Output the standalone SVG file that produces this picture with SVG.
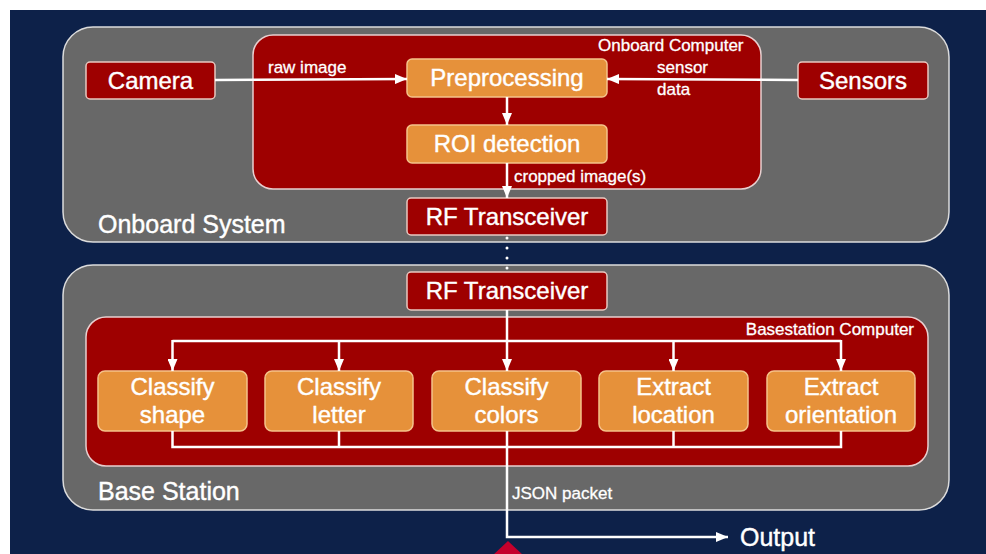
<svg xmlns="http://www.w3.org/2000/svg" width="986" height="554" viewBox="0 0 986 554">
<style>
text{font-family:"Liberation Sans",Arial,sans-serif;fill:#ffffff;stroke:#ffffff;stroke-width:0.4}
.big{font-size:25px}
.lbl{font-size:24px}
.sm{font-size:17px;stroke-width:0.3}
.cont{fill:#686868;stroke:#dcdcdc;stroke-width:1.5}
.comp{fill:#9e0000;stroke:#e8d0d0;stroke-width:1.5}
.red{fill:#9e0000;stroke:#e8c8c0;stroke-width:1.5}
.or{fill:#e6913a;stroke:#f5c28a;stroke-width:1.5}
.ln{fill:none;stroke:#ffffff;stroke-width:2.5}
</style>
<defs>
<marker id="ah" viewBox="0 0 12 10" refX="12" refY="5" markerWidth="12" markerHeight="10" markerUnits="userSpaceOnUse" orient="auto">
<path d="M0,0 L12,5 L0,10 Z" fill="#ffffff"/>
</marker>
</defs>
<rect x="0" y="0" width="986" height="554" fill="#ffffff"/>
<rect x="10" y="10" width="976" height="544" fill="#0d2149"/>
<polygon points="508,541 492,556 524,556" fill="#c4002c"/>

<g id="onboard-system">
<rect class="cont" x="63" y="27" width="886" height="215" rx="30"/>
<text class="big" x="98" y="233">Onboard System</text>
</g>
<g id="onboard-computer">
<rect class="comp" x="253" y="35" width="508" height="154" rx="20"/>
<text class="sm" x="598" y="51">Onboard Computer</text>
</g>
<g id="camera">
<rect class="red" x="86" y="62" width="129" height="37" rx="4"/>
<text class="lbl" x="150.5" y="89" text-anchor="middle">Camera</text>
</g>
<g id="sensors">
<rect class="red" x="798" y="62" width="130" height="37" rx="4"/>
<text class="lbl" x="863" y="89" text-anchor="middle">Sensors</text>
</g>
<g id="preprocessing">
<rect class="or" x="407" y="59" width="200" height="38" rx="5"/>
<text class="lbl" x="507" y="86" text-anchor="middle">Preprocessing</text>
</g>
<g id="roi">
<rect class="or" x="407" y="125" width="200" height="38" rx="5"/>
<text class="lbl" x="507" y="152" text-anchor="middle">ROI detection</text>
</g>
<g id="rf-top">
<rect class="red" x="407" y="198" width="200" height="37" rx="4"/>
<text class="lbl" x="507" y="225" text-anchor="middle">RF Transceiver</text>
</g>

<g id="base-station">
<rect class="cont" x="63" y="265" width="886" height="245" rx="30"/>
<text class="big" x="98" y="500">Base Station</text>
</g>
<g id="basestation-computer">
<rect class="comp" x="86" y="317" width="842" height="149" rx="20"/>
<text class="sm" x="914" y="335" text-anchor="end">Basestation Computer</text>
</g>
<g id="rf-bottom">
<rect class="red" x="407" y="272" width="200" height="38" rx="4"/>
<text class="lbl" x="507" y="299" text-anchor="middle">RF Transceiver</text>
</g>
<g id="classify-shape">
<rect class="or" x="98" y="371" width="149" height="60" rx="7"/>
<text class="lbl" x="172.5" y="395" text-anchor="middle">Classify</text>
<text class="lbl" x="172.5" y="423" text-anchor="middle">shape</text>
</g>
<g id="classify-letter">
<rect class="or" x="265" y="371" width="148" height="60" rx="7"/>
<text class="lbl" x="339" y="395" text-anchor="middle">Classify</text>
<text class="lbl" x="339" y="423" text-anchor="middle">letter</text>
</g>
<g id="classify-colors">
<rect class="or" x="432" y="371" width="149" height="60" rx="7"/>
<text class="lbl" x="506.5" y="395" text-anchor="middle">Classify</text>
<text class="lbl" x="506.5" y="423" text-anchor="middle">colors</text>
</g>
<g id="extract-location">
<rect class="or" x="599" y="371" width="149" height="60" rx="7"/>
<text class="lbl" x="673.5" y="395" text-anchor="middle">Extract</text>
<text class="lbl" x="673.5" y="423" text-anchor="middle">location</text>
</g>
<g id="extract-orientation">
<rect class="or" x="767" y="371" width="148" height="60" rx="7"/>
<text class="lbl" x="841" y="395" text-anchor="middle">Extract</text>
<text class="lbl" x="841" y="423" text-anchor="middle">orientation</text>
</g>
<g id="output">
<text class="big" x="740" y="546">Output</text>
</g>

<g id="connectors">
<line class="ln" x1="215" y1="80" x2="407" y2="79" marker-end="url(#ah)"/>
<text class="sm" x="268" y="73">raw image</text>
<line class="ln" x1="798" y1="80" x2="607" y2="79" marker-end="url(#ah)"/>
<text class="sm" x="657" y="73">sensor</text>
<text class="sm" x="657" y="95">data</text>
<line class="ln" x1="507" y1="97" x2="507" y2="125" marker-end="url(#ah)"/>
<line class="ln" x1="507" y1="163" x2="507" y2="198" marker-end="url(#ah)"/>
<text class="sm" x="514" y="182">cropped image(s)</text>
<line x1="507" y1="238" x2="507" y2="270" stroke="#ffffff" stroke-width="3" stroke-linecap="round" stroke-dasharray="0 10"/>
<line class="ln" x1="507" y1="310" x2="507" y2="371" marker-end="url(#ah)"/>
<polyline class="ln" points="172.5,341 841,341"/>
<line class="ln" x1="172.5" y1="340" x2="172.5" y2="371" marker-end="url(#ah)"/>
<line class="ln" x1="339" y1="340" x2="339" y2="371" marker-end="url(#ah)"/>
<line class="ln" x1="673.5" y1="340" x2="673.5" y2="371" marker-end="url(#ah)"/>
<line class="ln" x1="841" y1="340" x2="841" y2="371" marker-end="url(#ah)"/>
<polyline class="ln" points="172.5,431 172.5,447 841,447 841,431"/>
<line class="ln" x1="339" y1="431" x2="339" y2="447"/>
<line class="ln" x1="673.5" y1="431" x2="673.5" y2="447"/>
<polyline class="ln" points="507,431 507,537 728,537" marker-end="url(#ah)"/>
<text class="sm" x="512" y="499">JSON packet</text>
</g>
</svg>
